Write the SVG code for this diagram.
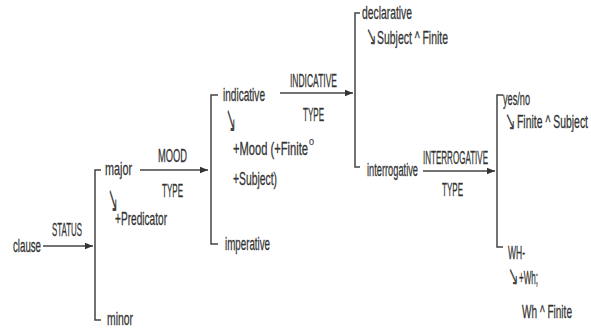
<svg xmlns="http://www.w3.org/2000/svg" width="591" height="329" viewBox="0 0 591 329">
<defs>
<marker id="ah" viewBox="0 0 10 10" refX="10" refY="5" markerWidth="8" markerHeight="8" markerUnits="userSpaceOnUse" orient="auto">
<path d="M0,1 L10,5 L0,9 Z" fill="#333"/>
</marker>
<style>
text{font-family:"Liberation Sans Narrow","Liberation Sans",Arial,sans-serif;font-size:19px;fill:#333;stroke:#333;stroke-width:0.3;}
.rz{font-family:"DejaVu Sans",sans-serif;font-size:28px;stroke:none;fill:#444;}
.rs{font-family:"DejaVu Sans",sans-serif;font-size:25px;stroke:none;fill:#444;}
.sup{font-size:9px;stroke-width:0.1;}
.ln{fill:none;stroke:#444;stroke-width:1.5;}
.ar{fill:none;stroke:#444;stroke-width:1.5;marker-end:url(#ah);}
</style>
</defs>
<rect width="591" height="329" fill="#fff"/>
<g id="connectors">
<path class="ar" d="M43 246 H93"/>
<path class="ln" d="M101 170 H95 V320 H101"/>
<path class="ar" d="M140 170 H208"/>
<path class="ln" d="M218 95 H211 V244 H218"/>
<path class="ar" d="M280 93 H353"/>
<path class="ln" d="M360 13 H355 V167 H360"/>
<path class="ar" d="M423 171 H495"/>
<path class="ln" d="M503 95 H497 V247 H503"/>
<text x="52" y="236" textLength="30" lengthAdjust="spacingAndGlyphs">STATUS</text>
<text x="158" y="162" textLength="29" lengthAdjust="spacingAndGlyphs">MOOD</text>
<text x="162" y="197" textLength="21" lengthAdjust="spacingAndGlyphs">TYPE</text>
<text x="290" y="87" textLength="47" lengthAdjust="spacingAndGlyphs">INDICATIVE</text>
<text x="303" y="121" textLength="21" lengthAdjust="spacingAndGlyphs">TYPE</text>
<text x="423" y="164" textLength="65" lengthAdjust="spacingAndGlyphs">INTERROGATIVE</text>
<text x="442" y="196" textLength="21" lengthAdjust="spacingAndGlyphs">TYPE</text>
</g>
<g id="clause"><text x="13" y="252" textLength="28" lengthAdjust="spacingAndGlyphs">clause</text></g>
<g id="major">
<text x="105" y="175" textLength="27" lengthAdjust="spacingAndGlyphs">major</text>
<text class="rz" transform="translate(108 212) scale(0.42 1.35)">↘</text>
<text x="115" y="225" textLength="52" lengthAdjust="spacingAndGlyphs">+Predicator</text>
</g>
<g id="minor"><text x="107" y="325" textLength="26" lengthAdjust="spacingAndGlyphs">minor</text></g>
<g id="indicative">
<text x="223" y="101" textLength="42" lengthAdjust="spacingAndGlyphs">indicative</text>
<text class="rz" transform="translate(226 132) scale(0.42 1.35)">↘</text>
<text x="233" y="155" textLength="75" lengthAdjust="spacingAndGlyphs">+Mood (+Finite</text>
<text class="sup" x="309" y="145">0</text>
<text x="233" y="185" textLength="44" lengthAdjust="spacingAndGlyphs">+Subject)</text>
</g>
<g id="imperative"><text x="225" y="250" textLength="45" lengthAdjust="spacingAndGlyphs">imperative</text></g>
<g id="declarative">
<text x="362" y="19" textLength="50" lengthAdjust="spacingAndGlyphs">declarative</text>
<text class="rs" transform="translate(366 45) scale(0.5 1.1)">↘</text>
<text x="377" y="44" textLength="71" lengthAdjust="spacingAndGlyphs">Subject ^ Finite</text>
</g>
<g id="interrogative"><text x="367" y="176" textLength="51" lengthAdjust="spacingAndGlyphs">interrogative</text></g>
<g id="yesno">
<text x="503" y="105" textLength="27" lengthAdjust="spacingAndGlyphs">yes/no</text>
<text class="rs" transform="translate(505 130) scale(0.5 1.1)">↘</text>
<text x="517" y="128" textLength="71" lengthAdjust="spacingAndGlyphs">Finite ^ Subject</text>
</g>
<g id="wh">
<text x="508" y="259" textLength="17" lengthAdjust="spacingAndGlyphs">WH-</text>
<text class="rs" transform="translate(508 285) scale(0.5 1.1)">↘</text>
<text x="519" y="284" textLength="19" lengthAdjust="spacingAndGlyphs">+Wh;</text>
<text x="522" y="318" textLength="50" lengthAdjust="spacingAndGlyphs">Wh ^ Finite</text>
</g>
</svg>
